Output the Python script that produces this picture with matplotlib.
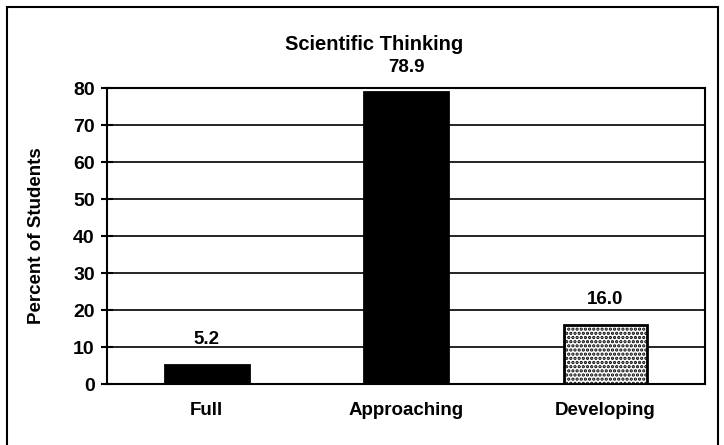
import matplotlib
matplotlib.use("Agg")
import matplotlib.pyplot as plt
from matplotlib.patches import Rectangle

categories = ["Full", "Approaching", "Developing"]
values = [5.2, 78.9, 16.0]
value_labels = ["5.2", "78.9", "16.0"]
yticks = [0, 10, 20, 30, 40, 50, 60, 70, 80]

plt.rcParams["font.family"] = ["Liberation Sans", "DejaVu Sans"]
plt.rcParams["font.weight"] = "bold"
plt.rcParams["hatch.linewidth"] = 1.6

fig = plt.figure(figsize=(7.24, 4.45), dpi=100)
ax = fig.add_axes([0.148, 0.137, 0.826, 0.665])

# outer frame around the whole chart
fig.add_artist(Rectangle((0.010, -0.05), 0.982, 1.035, transform=fig.transFigure,
                         fill=False, lw=1.5, ec="black"))

x = range(len(categories))
bars = ax.bar(x, values, width=0.42, color=["black", "black", "white"],
              edgecolor="black", linewidth=2, zorder=3)
bars[2].set_hatch("....")

for xi, v, lab in zip(x, values, value_labels):
    ax.text(xi, v + 4.5, lab, ha="center", va="bottom", fontsize=13.5,
            fontweight="bold", clip_on=False)

ax.set_ylim(0, 80)
ax.set_xlim(-0.5, 2.5)
ax.set_yticks(yticks)
ax.set_xticks(list(x))
ax.set_xticklabels(categories)
ax.yaxis.grid(True, color="black", lw=1.2, zorder=0)
ax.tick_params(axis="y", direction="inout", length=8, width=1.5, labelsize=14,
               pad=5)
ax.tick_params(axis="x", length=0, pad=13, labelsize=13.5)
for s in ax.spines.values():
    s.set_linewidth(1.5)

ax.set_ylabel("Percent of Students", fontsize=13.5, fontweight="bold", labelpad=20)
fig.text(0.517, 0.900, "Scientific Thinking", ha="center", va="center",
         fontsize=14.5, fontweight="bold")

fig.savefig("out.png", dpi=100)
